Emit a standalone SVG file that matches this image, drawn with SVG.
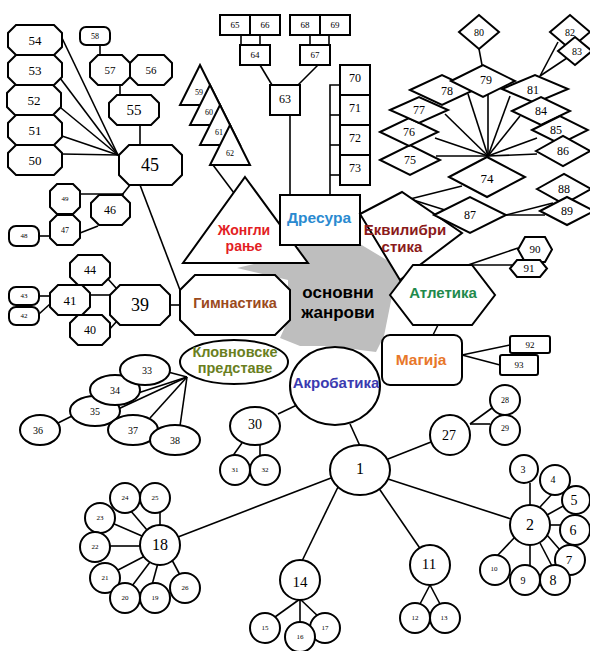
<svg xmlns="http://www.w3.org/2000/svg" width="590" height="651" viewBox="0 0 590 651">
<style>
.n{fill:#fff;stroke:#000;stroke-width:2}
#connectors line,#connectors polyline{stroke:#000;stroke-width:1.6;fill:none}
.t{font-family:"Liberation Serif",serif;text-anchor:middle;dominant-baseline:central;fill:#000}
.g{font-family:"Liberation Sans",Arial,sans-serif;font-weight:bold;text-anchor:middle;font-size:15px}
</style>
<rect width="590" height="651" fill="#fff"/>
<g id="n-center">
<polygon points="237,268 262,262 300,246 360,244 400,268 412,264 392,296 384,336 376,352 360,350 335,346 300,346 280,338 288,320 288,280" fill="#bebebe"/>
<text class="g" x="338" y="298" font-size="17" style="font-size:17px">основни</text>
<text class="g" x="338" y="318" style="font-size:17px">жанрови</text>
</g>
<g id="connectors">
<line x1="62" y1="38" x2="118" y2="155"/>
<line x1="60" y1="78" x2="118" y2="155"/>
<line x1="61" y1="108" x2="118" y2="155"/>
<line x1="62" y1="136" x2="118" y2="155"/>
<line x1="62" y1="154" x2="118" y2="155"/>
<line x1="140" y1="125" x2="140" y2="145"/>
<line x1="120" y1="85" x2="120" y2="95"/>
<line x1="100" y1="45" x2="100" y2="55"/>
<line x1="130" y1="185" x2="122" y2="195"/>
<line x1="80" y1="194" x2="124" y2="194"/>
<line x1="80" y1="233" x2="98" y2="226"/>
<line x1="39" y1="236" x2="50" y2="236"/>
<line x1="140" y1="185" x2="180" y2="290"/>
<line x1="170" y1="305" x2="180" y2="305"/>
<line x1="39" y1="296" x2="50" y2="296"/>
<line x1="39" y1="314" x2="50" y2="304"/>
<line x1="90" y1="295" x2="110" y2="295"/>
<line x1="108" y1="279" x2="117" y2="289"/>
<line x1="108" y1="331" x2="117" y2="321"/>
<line x1="241" y1="35" x2="241" y2="45"/>
<line x1="260" y1="35" x2="260" y2="45"/>
<line x1="310" y1="35" x2="310" y2="45"/>
<line x1="329" y1="35" x2="329" y2="45"/>
<line x1="260" y1="65" x2="272" y2="85"/>
<line x1="318" y1="65" x2="298" y2="85"/>
<line x1="290" y1="115" x2="290" y2="195"/>
<polyline points="340,85 330,85 330,195"/>
<line x1="330" y1="115" x2="340" y2="115"/>
<line x1="330" y1="145" x2="340" y2="145"/>
<line x1="330" y1="175" x2="340" y2="175"/>
<line x1="213" y1="165" x2="234" y2="193"/>
<line x1="488" y1="156" x2="436" y2="156"/>
<line x1="488" y1="156" x2="435" y2="138"/>
<line x1="488" y1="156" x2="445" y2="114"/>
<line x1="488" y1="156" x2="468" y2="94"/>
<line x1="488" y1="156" x2="488" y2="95"/>
<line x1="488" y1="156" x2="510" y2="96"/>
<line x1="488" y1="156" x2="520" y2="116"/>
<line x1="488" y1="156" x2="537" y2="138"/>
<line x1="488" y1="156" x2="537" y2="154"/>
<line x1="479" y1="49" x2="482" y2="65"/>
<line x1="540" y1="76" x2="558" y2="42"/>
<line x1="540" y1="76" x2="567" y2="58"/>
<line x1="410" y1="199" x2="462" y2="186"/>
<line x1="410" y1="199" x2="445" y2="210"/>
<line x1="506" y1="215" x2="553" y2="203"/>
<line x1="506" y1="215" x2="545" y2="215"/>
<line x1="468" y1="265" x2="518" y2="248"/>
<line x1="472" y1="265" x2="512" y2="265"/>
<line x1="438" y1="325" x2="433" y2="335"/>
<line x1="462" y1="355" x2="510" y2="345"/>
<line x1="462" y1="355" x2="500" y2="365"/>
<line x1="187" y1="377" x2="168" y2="372"/>
<line x1="187" y1="377" x2="138" y2="393"/>
<line x1="187" y1="377" x2="116" y2="410"/>
<line x1="187" y1="377" x2="150" y2="418"/>
<line x1="187" y1="377" x2="180" y2="426"/>
<line x1="58" y1="423" x2="72" y2="416"/>
<line x1="278" y1="414" x2="297" y2="405"/>
<line x1="242" y1="443" x2="232" y2="457"/>
<line x1="260" y1="445" x2="260" y2="455"/>
<line x1="350" y1="424" x2="360" y2="446"/>
<line x1="338" y1="487" x2="302" y2="561"/>
<line x1="331" y1="478" x2="178" y2="537"/>
<line x1="388" y1="459" x2="431" y2="442"/>
<line x1="388" y1="479" x2="511" y2="519"/>
<line x1="378" y1="487" x2="430" y2="563"/>
<line x1="300" y1="599" x2="268" y2="622"/>
<line x1="300" y1="599" x2="300" y2="625"/>
<line x1="300" y1="599" x2="322" y2="620"/>
<line x1="430" y1="585" x2="420" y2="604"/>
<line x1="430" y1="585" x2="440" y2="604"/>
<line x1="470" y1="424" x2="492" y2="408"/>
<line x1="470" y1="424" x2="490" y2="424"/>
<line x1="160" y1="525" x2="160" y2="512"/>
<line x1="130" y1="510" x2="147" y2="530"/>
<line x1="112" y1="523" x2="142" y2="536"/>
<line x1="108" y1="546" x2="140" y2="546"/>
<line x1="118" y1="570" x2="145" y2="556"/>
<line x1="132" y1="586" x2="150" y2="562"/>
<line x1="152" y1="585" x2="158" y2="563"/>
<line x1="172" y1="560" x2="180" y2="575"/>
<line x1="530" y1="505" x2="530" y2="483"/>
<line x1="540" y1="507" x2="552" y2="494"/>
<line x1="547" y1="515" x2="565" y2="505"/>
<line x1="550" y1="525" x2="560" y2="525"/>
<line x1="547" y1="535" x2="560" y2="550"/>
<line x1="540" y1="543" x2="552" y2="566"/>
<line x1="530" y1="545" x2="530" y2="566"/>
<line x1="515" y1="537" x2="497" y2="556"/>
</g>
<g id="n-zhongli"><polygon class="n" points="245,177 308,263 183,263"/><text class="g" x="244" y="235" fill="#e31e24" style="font-size:14px">Жонгли</text><text class="g" x="244" y="251" fill="#e31e24" style="font-size:14px">рање</text></g>
<g id="n-dresura"><rect class="n" x="280" y="195" width="80" height="50"/><text class="g" x="319" y="223" fill="#2a8ad0" style="font-size:15.5px">Дресура</text></g>
<g id="n-ekvilibristika"><polygon class="n" points="360,214 402,192 462,233 400,280"/><text class="g" x="405" y="235" fill="#8b1a1a">Еквилибри</text><text class="g" x="402" y="252" fill="#8b1a1a">стика</text></g>
<g id="n-gimnastika"><polygon class="n" points="195,275 275,275 290,290 290,320 275,335 195,335 180,320 180,290"/><text class="g" x="235" y="308" fill="#9b4a1c" style="font-size:14.5px">Гимнастика</text></g>
<g id="n-atletika"><polygon class="n" points="390,295 413,265 472,265 495,295 472,325 413,325"/><text class="g" x="443" y="298" fill="#1f8a4c">Атлетика</text></g>
<g id="n-magija"><rect class="n" x="382" y="335" width="80" height="50" rx="8"/><text class="g" x="421" y="365" fill="#e8772a" style="font-size:15.5px">Магија</text></g>
<g id="n-klovnovske"><ellipse class="n" cx="234" cy="362" rx="54" ry="22"/><text class="g" x="235" y="357" fill="#6a7f1e" style="font-size:14.5px">Кловновске</text><text class="g" x="235" y="373" fill="#6a7f1e" style="font-size:14.5px">представе</text></g>
<g id="n-akrobatika"><ellipse class="n" cx="335" cy="386" rx="45" ry="39"/><text class="g" x="336" y="388" fill="#3b3bb0">Акробатика</text></g>
<g id="n-54"><polygon class="n" points="16,25 54,25 62,33 62,47 54,55 16,55 8,47 8,33"/><text class="t" x="35" y="40" font-size="13">54</text></g>
<g id="n-53"><polygon class="n" points="16,55 54,55 62,63 62,77 54,85 16,85 8,77 8,63"/><text class="t" x="35" y="70" font-size="13">53</text></g>
<g id="n-52"><polygon class="n" points="15,85 53,85 61,93 61,107 53,115 15,115 7,107 7,93"/><text class="t" x="34" y="100" font-size="13">52</text></g>
<g id="n-51"><polygon class="n" points="16,115 54,115 62,123 62,137 54,145 16,145 8,137 8,123"/><text class="t" x="35" y="130" font-size="13">51</text></g>
<g id="n-50"><polygon class="n" points="16,145 54,145 62,153 62,167 54,175 16,175 8,167 8,153"/><text class="t" x="35" y="160" font-size="13">50</text></g>
<g id="n-58"><rect class="n" x="80" y="27" width="30" height="18" rx="6"/><text class="t" x="95" y="36" font-size="8">58</text></g>
<g id="n-57"><polygon class="n" points="98,55 122,55 130,63 130,77 122,85 98,85 90,77 90,63"/><text class="t" x="110" y="70" font-size="11">57</text></g>
<g id="n-56"><polygon class="n" points="138,55 164,55 172,63 172,77 164,85 138,85 130,77 130,63"/><text class="t" x="151" y="70" font-size="11">56</text></g>
<g id="n-55"><polygon class="n" points="117,95 151,95 159,103 159,117 151,125 117,125 109,117 109,103"/><text class="t" x="134" y="110" font-size="15">55</text></g>
<g id="n-45"><polygon class="n" points="129,145 172,145 182,155 182,175 172,185 129,185 119,175 119,155"/><text class="t" x="150" y="165" font-size="18">45</text></g>
<g id="n-49"><polygon class="n" points="57,184 73,184 80,191 80,207 73,214 57,214 50,207 50,191"/><text class="t" x="65" y="199" font-size="7">49</text></g>
<g id="n-47"><polygon class="n" points="57,215 73,215 80,222 80,238 73,245 57,245 50,238 50,222"/><text class="t" x="65" y="230" font-size="8">47</text></g>
<g id="n-48"><rect class="n" x="9" y="226" width="30" height="20" rx="7"/><text class="t" x="24" y="236" font-size="7">48</text></g>
<g id="n-46"><polygon class="n" points="99,195 122,195 130,203 130,217 122,225 99,225 91,217 91,203"/><text class="t" x="110" y="210" font-size="12">46</text></g>
<g id="n-44"><polygon class="n" points="78,255 102,255 110,263 110,277 102,285 78,285 70,277 70,263"/><text class="t" x="90" y="270" font-size="12">44</text></g>
<g id="n-41"><polygon class="n" points="58,285 82,285 90,293 90,307 82,315 58,315 50,307 50,293"/><text class="t" x="70" y="300" font-size="13">41</text></g>
<g id="n-40"><polygon class="n" points="78,315 102,315 110,323 110,337 102,345 78,345 70,337 70,323"/><text class="t" x="90" y="330" font-size="12">40</text></g>
<g id="n-39"><polygon class="n" points="120,285 160,285 170,295 170,315 160,325 120,325 110,315 110,295"/><text class="t" x="140" y="305" font-size="18">39</text></g>
<g id="n-43"><rect class="n" x="9" y="287" width="30" height="18" rx="7"/><text class="t" x="24" y="296" font-size="7">43</text></g>
<g id="n-42"><rect class="n" x="9" y="307" width="30" height="18" rx="7"/><text class="t" x="24" y="316" font-size="7">42</text></g>
<g id="n-65"><rect class="n" x="220" y="15" width="30" height="20"/><text class="t" x="235" y="25" font-size="9">65</text></g>
<g id="n-66"><rect class="n" x="250" y="15" width="30" height="20"/><text class="t" x="265" y="25" font-size="9">66</text></g>
<g id="n-68"><rect class="n" x="290" y="15" width="30" height="20"/><text class="t" x="305" y="25" font-size="9">68</text></g>
<g id="n-69"><rect class="n" x="320" y="15" width="30" height="20"/><text class="t" x="335" y="25" font-size="9">69</text></g>
<g id="n-64"><rect class="n" x="240" y="45" width="30" height="20"/><text class="t" x="255" y="55" font-size="9">64</text></g>
<g id="n-67"><rect class="n" x="300" y="45" width="30" height="20"/><text class="t" x="315" y="55" font-size="9">67</text></g>
<g id="n-63"><rect class="n" x="270" y="85" width="30" height="30"/><text class="t" x="285" y="99" font-size="12">63</text></g>
<g id="n-70"><rect class="n" x="340" y="65" width="30" height="30"/><text class="t" x="355" y="78" font-size="12">70</text></g>
<g id="n-71"><rect class="n" x="340" y="95" width="30" height="30"/><text class="t" x="355" y="108" font-size="12">71</text></g>
<g id="n-72"><rect class="n" x="340" y="125" width="30" height="30"/><text class="t" x="355" y="138" font-size="12">72</text></g>
<g id="n-73"><rect class="n" x="340" y="155" width="30" height="30"/><text class="t" x="355" y="168" font-size="12">73</text></g>
<g id="n-59"><polygon class="n" points="200,65 220,105 180,105"/><text class="t" x="199" y="92" font-size="8">59</text></g>
<g id="n-60"><polygon class="n" points="210,85 230,125 190,125"/><text class="t" x="209" y="112" font-size="8">60</text></g>
<g id="n-61"><polygon class="n" points="220,105 240,145 200,145"/><text class="t" x="219" y="132" font-size="8">61</text></g>
<g id="n-62"><polygon class="n" points="230,125 250,165 210,165"/><text class="t" x="230" y="153" font-size="8">62</text></g>
<g id="n-80"><polygon class="n" points="459,32 479,15 499,32 479,49"/><text class="t" x="479" y="32" font-size="10">80</text></g>
<g id="n-75"><polygon class="n" points="380,160 410,145 440,160 410,175"/><text class="t" x="410" y="160" font-size="12">75</text></g>
<g id="n-76"><polygon class="n" points="380,132 409,118 438,132 409,146"/><text class="t" x="409" y="132" font-size="12">76</text></g>
<g id="n-77"><polygon class="n" points="390,110 419,97 448,110 419,123"/><text class="t" x="419" y="110" font-size="12">77</text></g>
<g id="n-78"><polygon class="n" points="410,90 442,75 474,90 442,105"/><text class="t" x="447" y="91" font-size="12">78</text></g>
<g id="n-79"><polygon class="n" points="451,81 483,65 515,81 483,97"/><text class="t" x="486" y="80" font-size="12">79</text></g>
<g id="n-81"><polygon class="n" points="502,89 535,75 568,89 535,103"/><text class="t" x="533" y="90" font-size="12">81</text></g>
<g id="n-84"><polygon class="n" points="512,111 541,97 570,111 541,125"/><text class="t" x="541" y="111" font-size="12">84</text></g>
<g id="n-85"><polygon class="n" points="532,130 560,116 588,130 560,144"/><text class="t" x="556" y="130" font-size="12">85</text></g>
<g id="n-86"><polygon class="n" points="536,151 563,136 590,151 563,166"/><text class="t" x="563" y="151" font-size="12">86</text></g>
<g id="n-82"><polygon class="n" points="550,32 570,15 590,32 570,49"/><text class="t" x="570" y="32" font-size="10">82</text></g>
<g id="n-83"><polygon class="n" points="558,51 575,37 592,51 575,65"/><text class="t" x="577" y="51" font-size="10">83</text></g>
<g id="n-74"><polygon class="n" points="449,177 487,157 525,177 487,197"/><text class="t" x="487" y="178" font-size="13">74</text></g>
<g id="n-87"><polygon class="n" points="434,215 470,197 506,215 470,233"/><text class="t" x="470" y="215" font-size="12">87</text></g>
<g id="n-88"><polygon class="n" points="537,189 564,174 591,189 564,204"/><text class="t" x="564" y="189" font-size="12">88</text></g>
<g id="n-89"><polygon class="n" points="540,211 567,197 594,211 567,225"/><text class="t" x="567" y="211" font-size="12">89</text></g>
<g id="n-90"><polygon class="n" points="518,249.5 525,237 545,237 552,249.5 545,262 525,262"/><text class="t" x="535" y="249" font-size="11">90</text></g>
<g id="n-91"><polygon class="n" points="510,268.5 517,260 540,260 547,268.5 540,277 517,277"/><text class="t" x="529" y="268" font-size="11">91</text></g>
<g id="n-92"><rect class="n" x="510" y="336" width="40" height="17" rx="2"/><text class="t" x="530" y="345" font-size="9">92</text></g>
<g id="n-93"><rect class="n" x="500" y="355" width="38" height="20" rx="2"/><text class="t" x="519" y="365" font-size="9">93</text></g>
<g id="n-35"><ellipse class="n" cx="95" cy="411" rx="25" ry="15"/><text class="t" x="95" y="411" font-size="10">35</text></g>
<g id="n-34"><ellipse class="n" cx="115" cy="390" rx="25" ry="15"/><text class="t" x="115" y="390" font-size="10">34</text></g>
<g id="n-33"><ellipse class="n" cx="145" cy="370" rx="25" ry="15"/><text class="t" x="147" y="370" font-size="10">33</text></g>
<g id="n-36"><ellipse class="n" cx="40" cy="430" rx="20" ry="15"/><text class="t" x="38" y="430" font-size="10">36</text></g>
<g id="n-37"><ellipse class="n" cx="133" cy="430" rx="25" ry="15"/><text class="t" x="133" y="430" font-size="10">37</text></g>
<g id="n-38"><ellipse class="n" cx="175" cy="440" rx="25" ry="15"/><text class="t" x="175" y="440" font-size="10">38</text></g>
<g id="n-30"><ellipse class="n" cx="255" cy="426" rx="25" ry="19"/><text class="t" x="255" y="424" font-size="14">30</text></g>
<g id="n-31"><circle class="n" cx="235" cy="470" r="15"/><text class="t" x="235" y="470" font-size="7">31</text></g>
<g id="n-32"><circle class="n" cx="265" cy="470" r="15"/><text class="t" x="265" y="470" font-size="7">32</text></g>
<g id="n-1"><ellipse class="n" cx="360" cy="470" rx="30" ry="25"/><text class="t" x="360" y="468" font-size="16">1</text></g>
<g id="n-27"><circle class="n" cx="450" cy="435" r="20"/><text class="t" x="449" y="435" font-size="14">27</text></g>
<g id="n-28"><circle class="n" cx="505" cy="400" r="15"/><text class="t" x="505" y="400" font-size="8">28</text></g>
<g id="n-29"><circle class="n" cx="505" cy="430" r="15"/><text class="t" x="505" y="428" font-size="8">29</text></g>
<g id="n-2"><circle class="n" cx="530" cy="525" r="20"/><text class="t" x="530" y="524" font-size="16">2</text></g>
<g id="n-3"><circle class="n" cx="524" cy="469" r="14"/><text class="t" x="523" y="469" font-size="10">3</text></g>
<g id="n-4"><circle class="n" cx="555" cy="480" r="15"/><text class="t" x="553" y="479" font-size="10">4</text></g>
<g id="n-5"><circle class="n" cx="576" cy="500" r="14"/><text class="t" x="574" y="500" font-size="14">5</text></g>
<g id="n-6"><circle class="n" cx="575" cy="530" r="15"/><text class="t" x="573" y="530" font-size="14">6</text></g>
<g id="n-7"><circle class="n" cx="570" cy="560" r="15"/><text class="t" x="569" y="559" font-size="13">7</text></g>
<g id="n-8"><circle class="n" cx="555" cy="580" r="15"/><text class="t" x="553" y="580" font-size="14">8</text></g>
<g id="n-9"><circle class="n" cx="525" cy="580" r="15"/><text class="t" x="523" y="580" font-size="10">9</text></g>
<g id="n-10"><circle class="n" cx="495" cy="570" r="15"/><text class="t" x="494" y="569" font-size="7">10</text></g>
<g id="n-11"><circle class="n" cx="430" cy="565" r="20"/><text class="t" x="429" y="564" font-size="15">11</text></g>
<g id="n-12"><circle class="n" cx="415" cy="618" r="15"/><text class="t" x="415" y="618" font-size="7">12</text></g>
<g id="n-13"><circle class="n" cx="445" cy="618" r="15"/><text class="t" x="444" y="618" font-size="7">13</text></g>
<g id="n-14"><circle class="n" cx="300" cy="580" r="20"/><text class="t" x="300" y="582" font-size="15">14</text></g>
<g id="n-15"><circle class="n" cx="265" cy="628" r="15"/><text class="t" x="265" y="628" font-size="7">15</text></g>
<g id="n-17"><circle class="n" cx="325" cy="628" r="15"/><text class="t" x="325" y="628" font-size="7">17</text></g>
<g id="n-16"><circle class="n" cx="300" cy="637" r="15"/><text class="t" x="300" y="637" font-size="7">16</text></g>
<g id="n-18"><circle class="n" cx="160" cy="545" r="20"/><text class="t" x="160" y="544" font-size="16">18</text></g>
<g id="n-24"><circle class="n" cx="125" cy="498" r="15"/><text class="t" x="125" y="498" font-size="7">24</text></g>
<g id="n-25"><circle class="n" cx="155" cy="498" r="15"/><text class="t" x="155" y="498" font-size="7">25</text></g>
<g id="n-23"><circle class="n" cx="100" cy="518" r="15"/><text class="t" x="100" y="518" font-size="7">23</text></g>
<g id="n-22"><circle class="n" cx="95" cy="547" r="15"/><text class="t" x="95" y="547" font-size="7">22</text></g>
<g id="n-21"><circle class="n" cx="105" cy="578" r="15"/><text class="t" x="105" y="578" font-size="7">21</text></g>
<g id="n-20"><circle class="n" cx="125" cy="598" r="15"/><text class="t" x="125" y="598" font-size="7">20</text></g>
<g id="n-19"><circle class="n" cx="155" cy="598" r="15"/><text class="t" x="155" y="598" font-size="7">19</text></g>
<g id="n-26"><circle class="n" cx="185" cy="588" r="15"/><text class="t" x="185" y="588" font-size="7">26</text></g>
</svg>
